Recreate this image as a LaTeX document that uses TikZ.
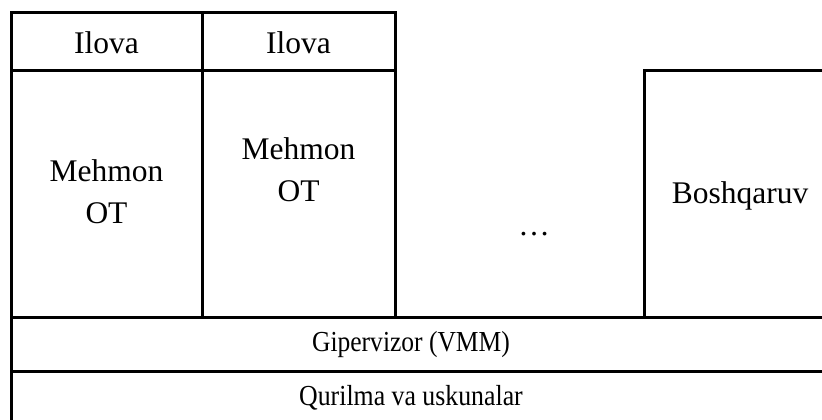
\documentclass[tikz,border=0pt]{standalone}
\usepackage{fontspec}
\setmainfont{Liberation Serif}
\usetikzlibrary{positioning}

\begin{document}
\begin{tikzpicture}[
    x=1pt, y=-1pt,
    layer/.style={rectangle, draw=black, line width=3pt, inner sep=0pt, outer sep=0pt, anchor=north west},
    lbl/.style={font=\fontsize{31.5}{42}\selectfont, align=center, anchor=base},
    barlbl/.style={font=\fontsize{29}{34}\selectfont, anchor=base}
]
    \useasboundingbox (0,0) rectangle (822,420);

    % guest stacks
    \node[layer, minimum width=191pt, minimum height=58pt] (app1) at (11,13) {};
    \node[layer, minimum width=193pt, minimum height=58pt] (app2) at (202,13) {};
    \node[layer, minimum width=191pt, minimum height=246pt] (os1) at (11,71) {};
    \node[layer, minimum width=193pt, minimum height=246pt] (os2) at (202,71) {};
    \node[layer, minimum width=200pt, minimum height=246pt] (mgmt) at (644,71) {};

    % lower layers
    \node[layer, minimum width=830pt, minimum height=54pt] (hyp) at (11,317) {};
    \node[layer, minimum width=830pt, minimum height=70pt] (hw) at (11,371) {};

    \node[lbl] (app1txt) at (106.5,54) {Ilova};
    \node[lbl] (app2txt) at (298.5,54) {Ilova};
    \node[lbl] (os1txt) at (106.5,223) {Mehmon\\OT};
    \node[lbl] (os2txt) at (298.5,201) {Mehmon\\OT};
    \node[lbl] (dots) at (534,235) {\ldots};
    \node[lbl] (mgmttxt) at (740,203) {Boshqaruv};
    \node[barlbl] (hyptxt) at (411,351) {\scalebox{0.88}[1]{Gipervizor (VMM)}};
    \node[barlbl] (hwtxt) at (411,405) {\scalebox{0.89}[1]{Qurilma va uskunalar}};
\end{tikzpicture}
\end{document}
